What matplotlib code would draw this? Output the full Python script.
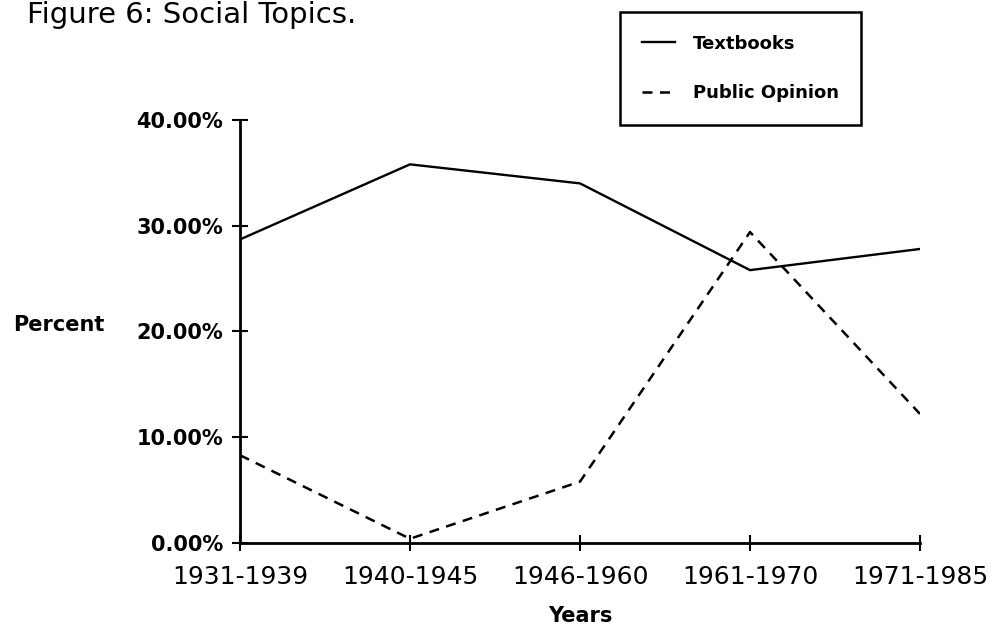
import matplotlib.pyplot as plt

# values (percent)
periods = ['1931-1939', '1940-1945', '1946-1960', '1961-1970', '1971-1985']
textbooks = [28.7, 35.8, 34.0, 25.8, 27.8]
public_opinion = [8.3, 0.4, 5.8, 29.4, 12.2]
y_ticks = [0, 10, 20, 30, 40]

fig = plt.figure(figsize=(9.93, 6.4), dpi=100)
ax = fig.add_axes([0.2417, 0.1516, 0.6848, 0.661])

x = range(len(periods))
ax.plot(x, textbooks, color='black', lw=1.7, label='Textbooks')
ax.plot(x, public_opinion, color='black', lw=1.8, dashes=(4, 3),
        label='Public Opinion')

ax.set_xlim(0, len(periods) - 1)
ax.set_ylim(0, 40)
ax.set_xticks(list(x), periods, fontsize=18)
ax.set_yticks(y_ticks, [f'{v:.2f}%' for v in y_ticks],
              fontsize=15, fontweight='bold')
ax.tick_params(direction='inout', length=12, width=1.5, color='black')
ax.tick_params(axis='x', pad=10)
ax.tick_params(axis='y', pad=6)

for side in ['top', 'right']:
    ax.spines[side].set_visible(False)
for side in ['left', 'bottom']:
    ax.spines[side].set_linewidth(2)
ax.patch.set_visible(False)

ax.set_xlabel('Years', fontsize=15, fontweight='bold', labelpad=12)
fig.text(0.013, 1 - 325 / 640, 'Percent', ha='left', va='center',
         fontsize=15, fontweight='bold')
fig.text(27 / 993, 1 - 1 / 640, 'Figure 6: Social Topics.', ha='left',
         va='top', fontsize=21)

leg = fig.legend(loc='upper left', bbox_to_anchor=(0.624, 0.981),
                 borderaxespad=0, fancybox=False, framealpha=1,
                 edgecolor='black', handlelength=1.8, handletextpad=1.0,
                 borderpad=1.25, labelspacing=1.75,
                 prop={'size': 13, 'weight': 'bold'})
leg.get_frame().set_linewidth(1.8)

fig.savefig('out.png', dpi=100)
